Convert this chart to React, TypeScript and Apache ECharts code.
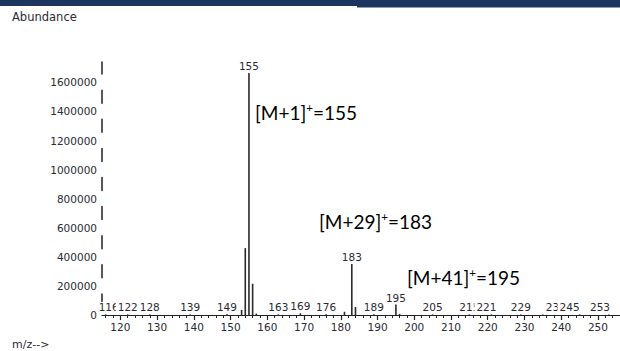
import React, { useEffect, useRef } from 'react';
import * as echarts from 'echarts';

// Mass spectrum: m/z of each peak and its abundance
const mzValues = [116, 122, 128, 139, 149, 153, 154, 155, 156, 157, 163, 169, 176, 181, 183, 184, 189, 195, 196, 205, 215, 221, 229, 235, 245, 253];
const abundance = [4000, 4000, 4000, 4000, 6000, 35000, 460000, 1665000, 215000, 10000, 4000, 12000, 5000, 22000, 350000, 55000, 5000, 72000, 8000, 4000, 4000, 4000, 4000, 4000, 4000, 4000];
// Peaks whose m/z is printed above the line
const labelledPeaks = [116, 122, 128, 139, 149, 155, 163, 169, 176, 183, 189, 195, 205, 215, 221, 229, 235, 245, 253];

// Axis ticks
const xTickLabels = [120, 130, 140, 150, 160, 170, 180, 190, 200, 210, 220, 230, 240, 250];
const xMinorTicks: number[] = [];
for (let v = 116; v <= 256; v += 2) xMinorTicks.push(v);
const yTickStep = 200000;

// Ion annotations
const ionNotes = [
  { ion: 'M+1', mz: 155 },
  { ion: 'M+29', mz: 183 },
  { ion: 'M+41', mz: 195 },
];

// Layout / styling helpers (pixels)
const notePositions = [
  { left: 255, top: 101 },
  { left: 319, top: 210 },
  { left: 407, top: 266 },
];
// Crowded peak labels get nudged sideways so they stack like the instrument printout
const labelNudge: Record<number, number> = { 116: 3, 221: -5, 235: 13, 245: -10, 253: -9 };

const TICK_FONT = 'DejaVu Sans';
const INK = '#2a2a34';

export default function App() {
  const ref = useRef<HTMLDivElement>(null);

  useEffect(() => {
    if (!ref.current) return;
    const chart = echarts.init(ref.current, undefined, { renderer: 'svg' });

    const data = mzValues.map((mz, i) => ({
      value: [mz, abundance[i]],
      label: { show: labelledPeaks.includes(mz), offset: [labelNudge[mz] || 0, 0] },
    }));

    const noteRich = {
      a: { fontFamily: 'Lato', fontSize: 19, lineHeight: 23, color: '#111' },
      s: { fontFamily: 'Lato', fontSize: 11.5, lineHeight: 12, verticalAlign: 'top', color: '#111' },
    };

    chart.setOption({
      animation: false,
      backgroundColor: '#ffffff',
      grid: { left: 102, top: 62, right: 0, bottom: 36, containLabel: false },
      xAxis: [
        {
          type: 'value',
          min: 115,
          max: 256,
          axisLine: { show: true, lineStyle: { color: '#222', width: 1.2 } },
          axisTick: { show: true, customValues: xTickLabels, length: 5, lineStyle: { color: '#222', width: 1.2 } },
          axisLabel: {
            customValues: xTickLabels,
            margin: 6,
            fontFamily: TICK_FONT,
            fontSize: 10.5,
            color: INK,
          },
          splitLine: { show: false },
        },
        {
          type: 'value',
          min: 115,
          max: 256,
          position: 'bottom',
          axisLine: { show: false },
          axisTick: { show: true, customValues: xMinorTicks, length: 3, lineStyle: { color: '#222', width: 1 } },
          axisLabel: { show: false },
          splitLine: { show: false },
        },
      ],
      yAxis: {
        type: 'value',
        min: 0,
        max: 1740000,
        interval: yTickStep,
        axisLine: {
          show: true,
          lineStyle: { color: '#222', width: 1.5, type: [13, 16.1], dashOffset: 21.1 },
        },
        axisTick: { show: false },
        axisLabel: {
          showMaxLabel: false,
          margin: 5,
          fontFamily: TICK_FONT,
          fontSize: 10.5,
          color: INK,
          formatter: (v: number) => String(v),
        },
        splitLine: { show: false },
      },
      series: [
        {
          type: 'bar',
          xAxisIndex: 0,
          barWidth: 1.6,
          itemStyle: { color: '#2a2a2a' },
          label: {
            position: 'top',
            distance: 1.5,
            formatter: (p: any) => String(p.value[0]),
            fontFamily: TICK_FONT,
            fontSize: 10.5,
            color: INK,
            backgroundColor: '#ffffff',
            padding: [0, 2],
          },
          data,
        },
      ],
      graphic: [
        { type: 'rect', left: 0, top: 0, shape: { width: 357, height: 6 }, style: { fill: '#1d3660' } },
        { type: 'rect', left: 357, top: 0, shape: { width: 263, height: 7.5 }, style: { fill: '#1d3660' } },
        {
          type: 'text',
          left: 12,
          top: 11,
          style: { text: 'Abundance', fontFamily: TICK_FONT, fontSize: 11.5, fill: INK },
        },
        {
          type: 'text',
          left: 12,
          top: 339,
          style: { text: 'm/z-->', fontFamily: TICK_FONT, fontSize: 11, fill: INK },
        },
        ...ionNotes.map((n, i) => ({
          type: 'text',
          left: notePositions[i].left,
          top: notePositions[i].top,
          style: {
            text: `{a|[${n.ion}]}{s|+}{a|=${n.mz}}`,
            rich: noteRich,
          },
        })),
      ],
    });

    return () => chart.dispose();
  }, []);

  return (
    <div
      ref={ref}
      style={{ position: 'fixed', left: 0, top: 0, width: 620, height: 351, background: '#fff' }}
    />
  );
}
